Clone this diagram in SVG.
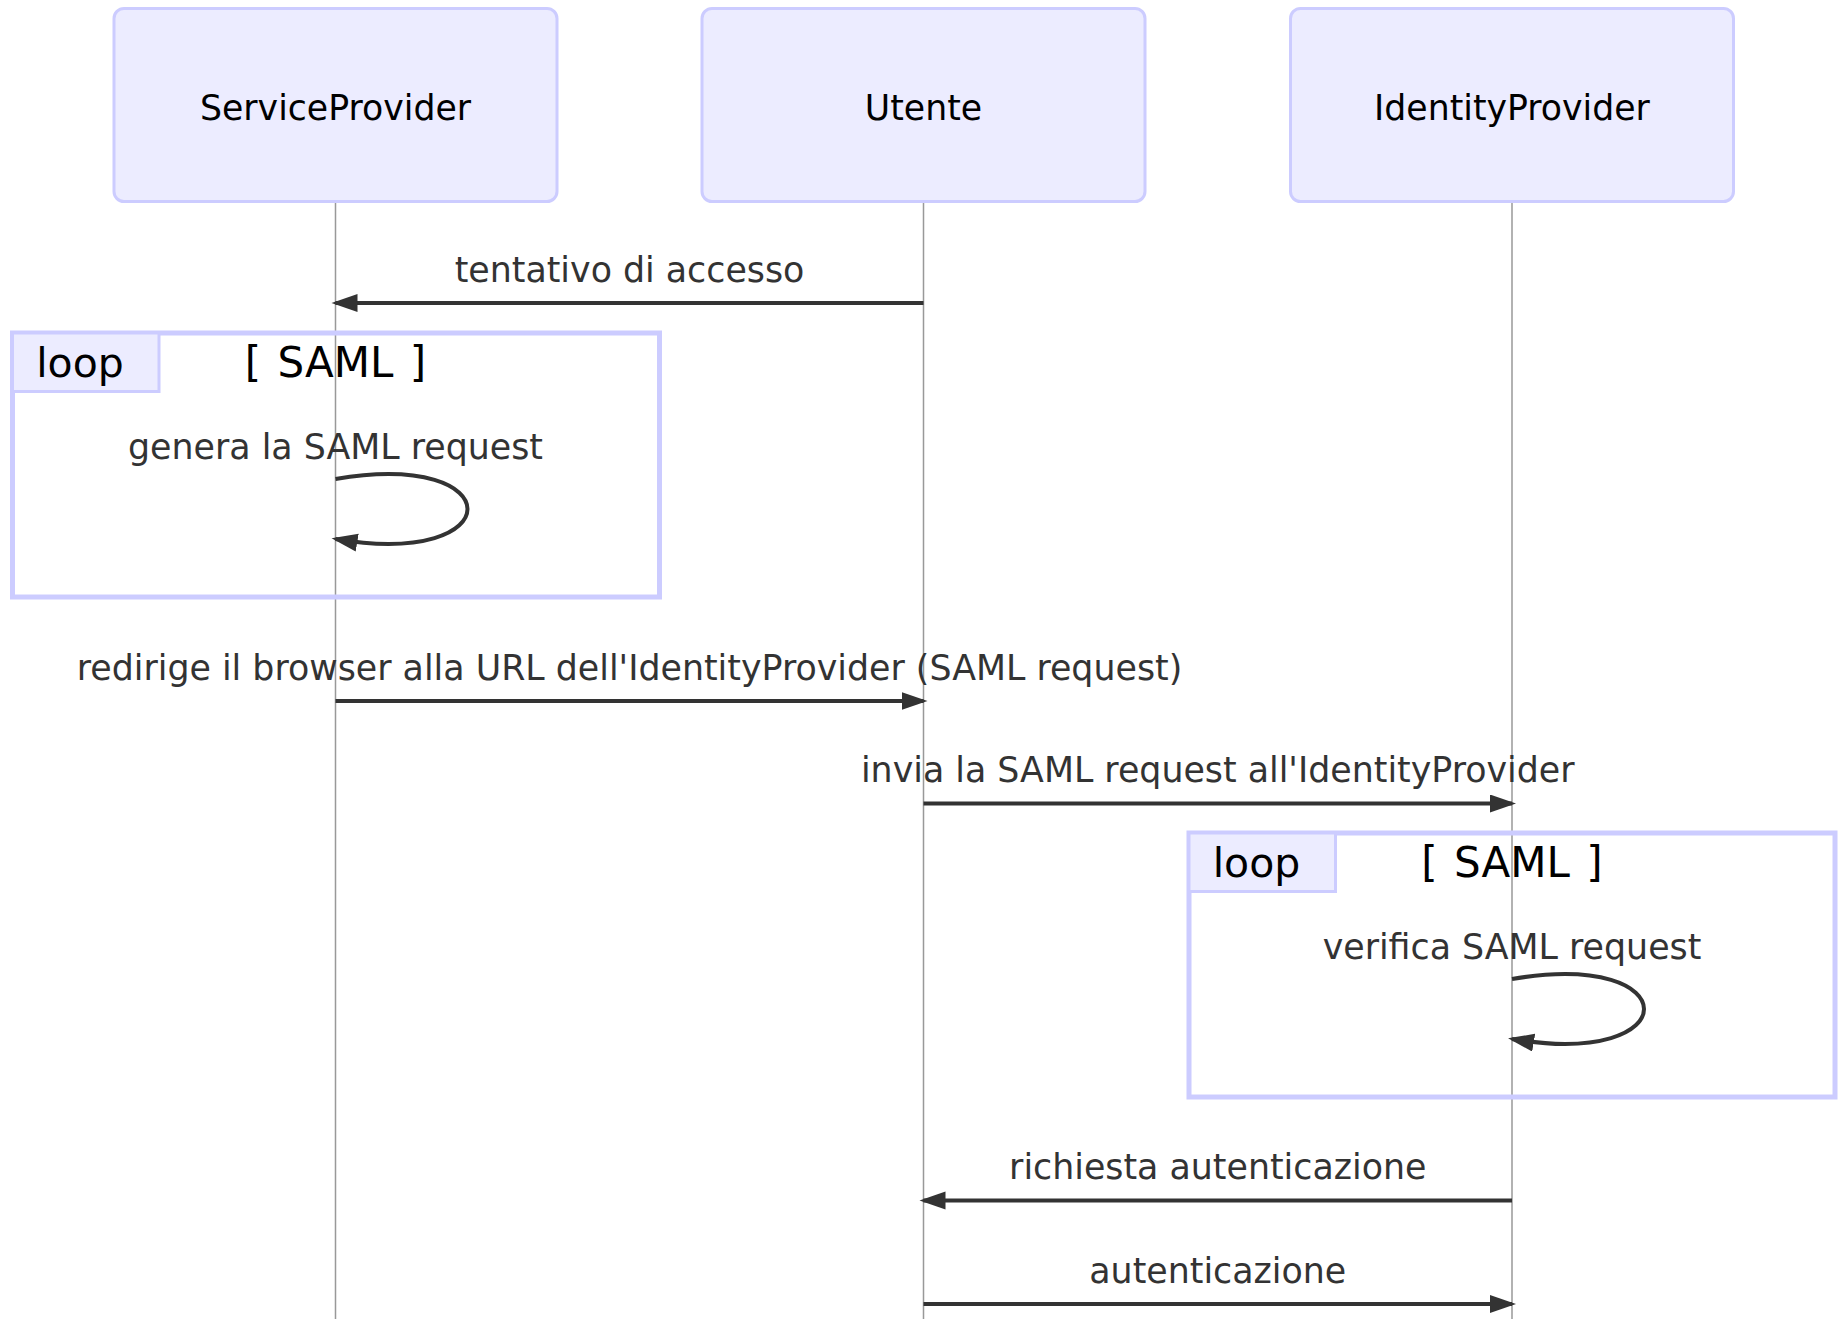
<svg xmlns="http://www.w3.org/2000/svg" width="1841" height="1319" viewBox="0 0 1841 1319">
  <style>
    .actor { fill: #ECECFF; stroke: #CCCCFF; stroke-width: 3; }
    .actor-text { font-family: "DejaVu Sans", Verdana, sans-serif; font-size: 34.7px; fill: #000; text-anchor: middle; }
    .lifeline { stroke: #999; stroke-width: 1.5; }
    .loop-frame { fill: none; stroke: #CCCCFF; stroke-width: 5; }
    .loop-label-box { fill: #ECECFF; stroke: #CCCCFF; stroke-width: 3; }
    .loop-text { font-family: "DejaVu Sans", Verdana, sans-serif; font-size: 41px; fill: #000; text-anchor: middle; }
    .loop-cond { font-family: "DejaVu Sans", Verdana, sans-serif; font-size: 42px; word-spacing: 3px; fill: #000; text-anchor: middle; }
    .msg-text { font-family: "DejaVu Sans", Verdana, sans-serif; font-size: 34.8px; fill: #333; text-anchor: middle; }
    .msg-line { fill: none; stroke: #333; stroke-width: 4; marker-end: url(#arrowhead); }
  </style>
  <defs>
    <marker id="arrowhead" markerUnits="userSpaceOnUse" markerWidth="28" markerHeight="20" refX="22" refY="9" orient="auto">
      <path d="M0,0 L26,9 L0,18 z" fill="#333"/>
    </marker>
  </defs>

  <rect width="1841" height="1319" fill="#fff"/>

  <!-- lifelines -->
  <g id="lifelines">
    <line class="lifeline" x1="335.5" y1="202" x2="335.5" y2="1319"/>
    <line class="lifeline" x1="923.5" y1="202" x2="923.5" y2="1319"/>
    <line class="lifeline" x1="1512" y1="202" x2="1512" y2="1319"/>
  </g>

  <!-- participants -->
  <g id="ServiceProvider">
    <rect class="actor" x="114" y="8.5" width="443" height="193" rx="10" ry="10"/>
    <text class="actor-text" x="335.5" y="120">ServiceProvider</text>
  </g>
  <g id="Utente">
    <rect class="actor" x="702" y="8.5" width="443" height="193" rx="10" ry="10"/>
    <text class="actor-text" x="923.5" y="120">Utente</text>
  </g>
  <g id="IdentityProvider">
    <rect class="actor" x="1290.5" y="8.5" width="443" height="193" rx="10" ry="10"/>
    <text class="actor-text" x="1512" y="120">IdentityProvider</text>
  </g>

  <!-- loop blocks -->
  <g id="loop-sp">
    <rect class="loop-frame" x="12.5" y="333" width="647" height="264"/>
    <rect class="loop-label-box" x="12.5" y="333" width="146.5" height="58.5"/>
    <text class="loop-text" x="80" y="377">loop</text>
    <text class="loop-cond" x="335.5" y="377">[ SAML ]</text>
  </g>
  <g id="loop-idp">
    <rect class="loop-frame" x="1189" y="833" width="646" height="264"/>
    <rect class="loop-label-box" x="1189" y="833" width="146.5" height="58.5"/>
    <text class="loop-text" x="1256.5" y="877">loop</text>
    <text class="loop-cond" x="1512" y="877">[ SAML ]</text>
  </g>

  <!-- messages -->
  <g id="connectors">
    <text class="msg-text" x="629.5" y="281.5">tentativo di accesso</text>
    <line class="msg-line" x1="923.5" y1="303" x2="335.5" y2="303"/>

    <text class="msg-text" x="335.5" y="458.5">genera la SAML request</text>
    <path class="msg-line" d="M335.5,479 C511.5,449 511.5,569 335.5,539"/>

    <text class="msg-text" x="629.5" y="679.5">redirige il browser alla URL dell'IdentityProvider (SAML request)</text>
    <line class="msg-line" x1="335.5" y1="701" x2="923.5" y2="701"/>

    <text class="msg-text" x="1217.75" y="782">invia la SAML request all'IdentityProvider</text>
    <line class="msg-line" x1="923.5" y1="803.5" x2="1512" y2="803.5"/>

    <text class="msg-text" x="1512" y="958.5">verifica SAML request</text>
    <path class="msg-line" d="M1512,979 C1688,949 1688,1069 1512,1039"/>

    <text class="msg-text" x="1217.75" y="1179">richiesta autenticazione</text>
    <line class="msg-line" x1="1512" y1="1200.5" x2="923.5" y2="1200.5"/>

    <text class="msg-text" x="1217.75" y="1282.5">autenticazione</text>
    <line class="msg-line" x1="923.5" y1="1304" x2="1512" y2="1304"/>
  </g>
</svg>
